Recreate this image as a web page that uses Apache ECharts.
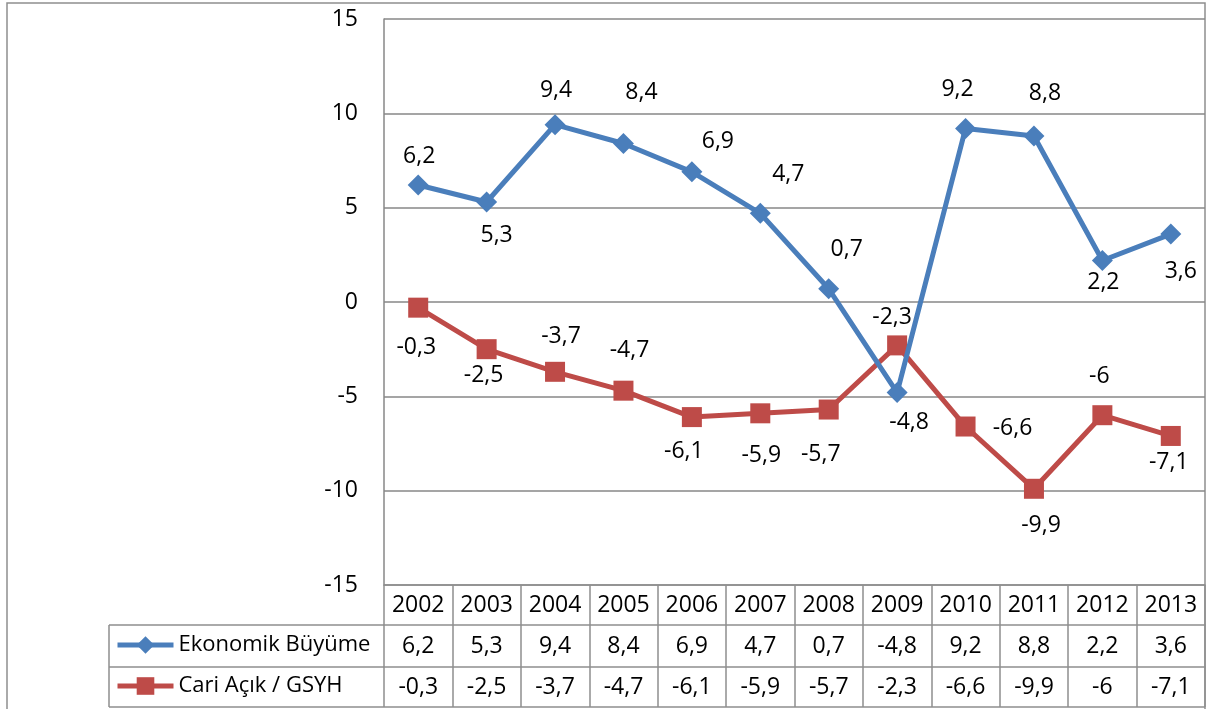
<!DOCTYPE html>
<html>
<head>
<meta charset="utf-8">
<script src="https://cdn.jsdelivr.net/npm/echarts@6/dist/echarts.min.js"></script>
<style>
	html, body { margin: 0; padding: 0; background: #ffffff; }
	#chart { width: 1211px; height: 709px; }
</style>
</head>
<body>
<div id="chart"></div>
<script>
/**
 * 数据
 * */
var years = ['2002', '2003', '2004', '2005', '2006', '2007', '2008', '2009', '2010', '2011', '2012', '2013'];
var buyume = [6.2, 5.3, 9.4, 8.4, 6.9, 4.7, 0.7, -4.8, 9.2, 8.8, 2.2, 3.6];
var cariAcik = [-0.3, -2.5, -3.7, -4.7, -6.1, -5.9, -5.7, -2.3, -6.6, -9.9, -6, -7.1];
var seriesNames = ['Ekonomik Büyüme', 'Cari Açık / GSYH'];
var yMin = -15, yMax = 15, yStep = 5;

/**
 * 样式
 * */
var style = {
	font: '"Open Sans", "DejaVu Sans", sans-serif',
	fontSize: 23,
	blue: '#4a7ebb',
	red: '#be4b48',
	gridLine: '#878787',
	border: '#8e8e8e',
	//标签偏移(相对于点中心)
	blueOffset: [[1, -29], [10, 33], [1, -34], [18, -51], [26, -30], [28, -39], [18, -39], [12, 30], [-8, -39], [11, -43], [1, 22], [10, 37]],
	redOffset: [[-2, 40], [-3, 26], [6, -35], [6, -40], [-8, 34], [1, 42], [-8, 45], [-5, -28], [47, 2], [7, 37], [-3, -39], [-2, 26]]
}

//数字格式 6.2 -> 6,2
function fmt(v) {
	return String(v).replace('.', ',');
}

function seriesData(values, offsets) {
	return values.map(function(v, i) {
		return { value: v, label: { offset: offsets[i] } };
	});
}

//表格行(用类目轴画)
function tableAxis(offset, tickLen, margin, formatter) {
	return {
		type: 'category',
		position: 'bottom',
		data: years,
		offset: offset,
		boundaryGap: true,
		axisLine: { show: true, onZero: false, lineStyle: { color: style.border, width: 1.5 } },
		axisTick: { show: true, interval: 0, length: tickLen, lineStyle: { color: style.border, width: 1.5 } },
		axisLabel: {
			interval: 0,
			margin: margin,
			verticalAlign: 'middle',
			color: '#000000',
			fontSize: style.fontSize,
			fontFamily: style.font,
			formatter: formatter
		},
		splitLine: { show: false }
	};
}

function legendItem(name, top) {
	return {
		data: [name],
		left: 115, top: top, padding: 0,
		itemWidth: 56, itemHeight: 22,
		itemGap: 4,
		lineStyle: { width: 5 },
		textStyle: { color: '#000000', fontSize: 22, fontFamily: style.font, padding: [0, 0, 0, 0] }
	};
}

var option = {
	animation: false,
	backgroundColor: '#ffffff',
	grid: { left: 384, right: 6, top: 19, bottom: 124 },
	legend: [legendItem(seriesNames[0], 634), legendItem(seriesNames[1], 675)],
	xAxis: [
		tableAxis(0, 40, 20, function(v) { return v; }),
		tableAxis(40, 42, 21, function(v, i) { return fmt(buyume[i]); }),
		tableAxis(82, 40, 20, function(v, i) { return fmt(cariAcik[i]); })
	],
	yAxis: {
		type: 'value',
		min: yMin, max: yMax, interval: yStep,
		axisLine: { show: true, lineStyle: { color: style.gridLine, width: 1.5 } },
		axisTick: { show: false },
		axisLabel: { color: '#000000', fontSize: style.fontSize, fontFamily: style.font, margin: 26 },
		splitLine: { lineStyle: { color: style.gridLine, width: 1.5 } }
	},
	series: [{
		name: seriesNames[0],
		type: 'line',
		xAxisIndex: 0,
		data: seriesData(buyume, style.blueOffset),
		symbol: 'diamond',
		symbolSize: 21,
		itemStyle: { color: style.blue },
		lineStyle: { color: style.blue, width: 5 },
		label: {
			show: true, position: 'inside',
			color: '#000000', fontSize: style.fontSize, fontFamily: style.font,
			formatter: function(p) { return fmt(p.value); }
		},
		z: 3
	}, {
		name: seriesNames[1],
		type: 'line',
		xAxisIndex: 0,
		data: seriesData(cariAcik, style.redOffset),
		symbol: 'rect',
		symbolSize: 20,
		itemStyle: { color: style.red },
		lineStyle: { color: style.red, width: 5 },
		label: {
			show: true, position: 'inside',
			color: '#000000', fontSize: style.fontSize, fontFamily: style.font,
			formatter: function(p) { return fmt(p.value); }
		},
		z: 2
	}],
	graphic: [
		//外框
		{ type: 'rect', shape: { x: 7, y: 3, width: 1198, height: 740 }, style: { fill: 'none', stroke: style.border, lineWidth: 1.5 }, silent: true },
		//图例单元格
		{ type: 'line', shape: { x1: 109, y1: 625, x2: 384, y2: 625 }, style: { stroke: style.border, lineWidth: 1.5 } },
		{ type: 'line', shape: { x1: 109, y1: 667, x2: 384, y2: 667 }, style: { stroke: style.border, lineWidth: 1.5 } },
		{ type: 'line', shape: { x1: 109, y1: 707, x2: 1205, y2: 707 }, style: { stroke: style.border, lineWidth: 1.5 } },
		{ type: 'line', shape: { x1: 109, y1: 625, x2: 109, y2: 707 }, style: { stroke: style.border, lineWidth: 1.5 } }
	]
};

var myChart = echarts.init(document.getElementById('chart'));
myChart.setOption(option);
</script>
</body>
</html>
